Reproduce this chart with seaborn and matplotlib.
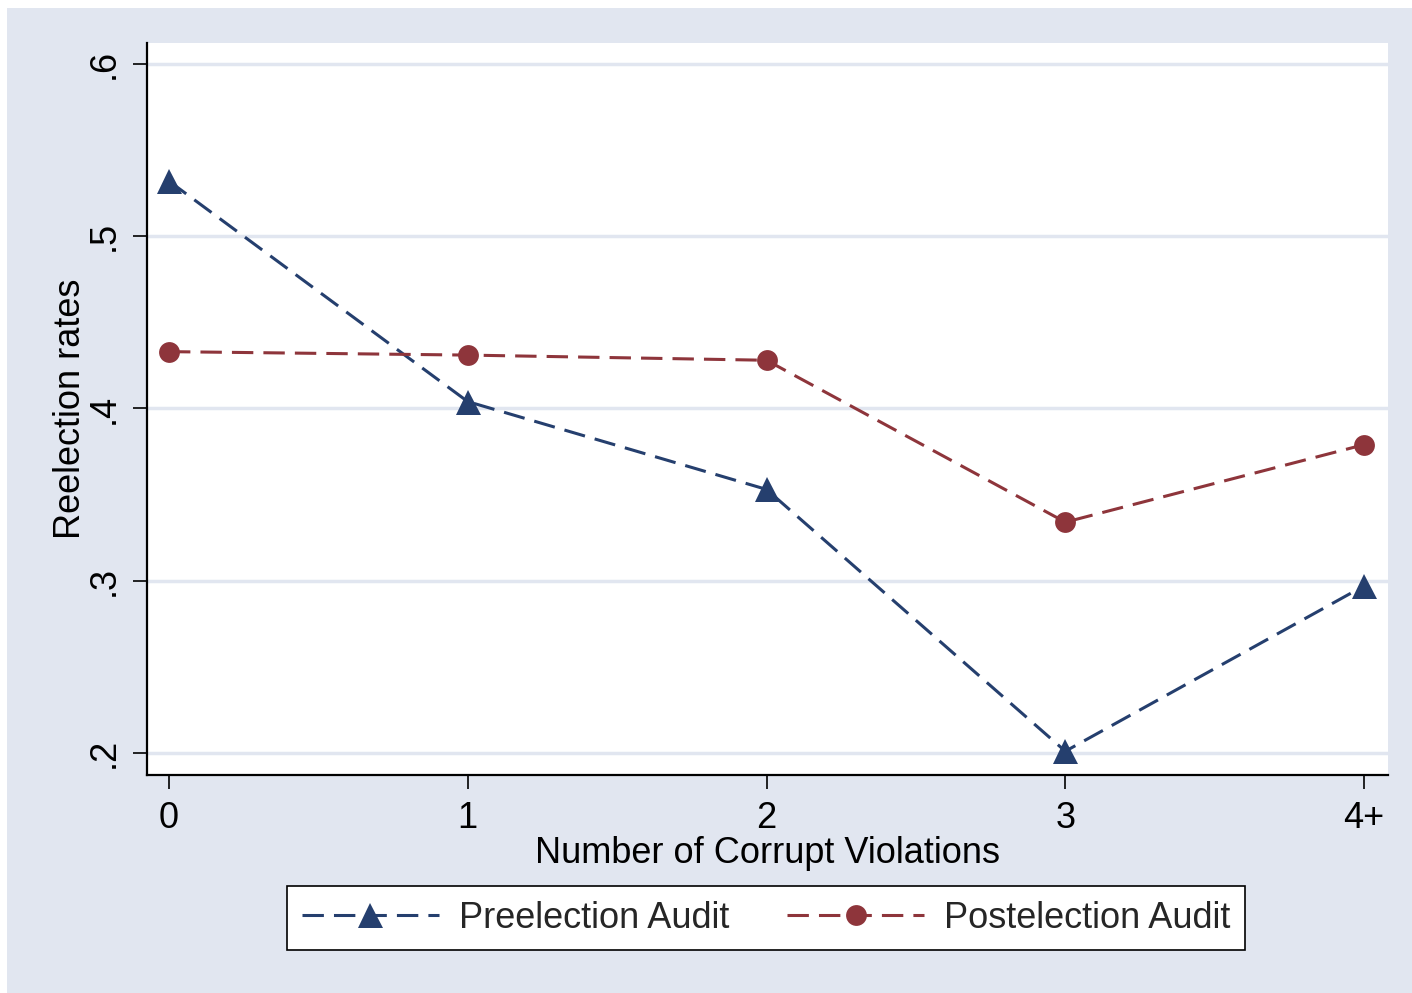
import matplotlib
matplotlib.use("Agg")
import matplotlib.pyplot as plt
import matplotlib.patches as mpatches
import seaborn as sns
import pandas as pd

categories = ["0", "1", "2", "3", "4+"]
pre_values = [0.532, 0.404, 0.353, 0.201, 0.297]
post_values = [0.433, 0.431, 0.428, 0.334, 0.379]
series_names = ["Preelection Audit", "Postelection Audit"]
y_ticks = [0.2, 0.3, 0.4, 0.5, 0.6]
y_ticklabels = [".2", ".3", ".4", ".5", ".6"]

sns.set_theme(style="white")
plt.rcParams['font.family'] = ['Liberation Sans', 'DejaVu Sans']

BG = "#E1E6F0"
NAVY = "#253F6E"
MAROON = "#8E353B"

df = pd.DataFrame({
    "x": list(range(len(categories))) * 2,
    "y": pre_values + post_values,
    "series": [series_names[0]] * len(categories) + [series_names[1]] * len(categories),
})

fig = plt.figure(figsize=(14.12, 9.93), dpi=100)
fig.patch.set_facecolor("white")
fig.patches.append(mpatches.Rectangle((7 / 1412, 0), 1 - 7 / 1412, (993 - 8) / 993,
                                      transform=fig.transFigure, facecolor=BG,
                                      edgecolor="none", zorder=-10))

ax = fig.add_axes([147 / 1412, (993 - 775) / 993, (1388 - 147) / 1412, (775 - 43) / 993])
ax.set_facecolor("white")

sns.lineplot(data=df, x="x", y="y", hue="series", style="series",
             palette=[NAVY, MAROON], markers=["^", "o"],
             dashes=[(7, 3.3), (7, 3.3)], linewidth=2.2,
             markeredgewidth=0, ax=ax, legend=False)
for line, ms in zip(ax.lines, [18, 15]):
    line.set_markersize(ms)

ax.set_xlim(-0.0736, 4.08)
ax.set_ylim(0.1872, 0.6122)
ax.set_xticks(range(len(categories)))
ax.set_xticklabels(categories)
ax.set_yticks(y_ticks)
ax.set_yticklabels(y_ticklabels, rotation=90, va="center")

for y in y_ticks:
    ax.axhline(y, color=BG, linewidth=2.5, zorder=0)

for s in ["top", "right"]:
    ax.spines[s].set_visible(False)
for s in ["left", "bottom"]:
    ax.spines[s].set_color("black")
    ax.spines[s].set_linewidth(1.6)

ax.tick_params(axis="both", which="major", direction="out", length=10, width=1.2,
               color="black", labelsize=26, labelcolor="black", left=True, bottom=True)
ax.tick_params(axis="x", pad=9)
ax.tick_params(axis="y", pad=8)

ax.set_xlabel("Number of Corrupt Violations", fontsize=26, color="black", labelpad=0)
ax.set_ylabel("Reelection rates", fontsize=26, color="black", labelpad=-1)

handles = [
    plt.Line2D([], [], color=NAVY, linestyle=(0, (7, 3.3)), linewidth=2.2,
               marker="^", markersize=18, markeredgewidth=0),
    plt.Line2D([], [], color=MAROON, linestyle=(0, (7, 3.3)), linewidth=2.2,
               marker="o", markersize=15, markeredgewidth=0),
]
leg = fig.legend(handles, series_names, loc="center", ncol=2,
                 bbox_to_anchor=(766 / 1412, 1 - 918 / 993),
                 fontsize=26, frameon=True, fancybox=False, framealpha=1.0,
                 handlelength=3.8, columnspacing=1.6, handletextpad=0.55,
                 borderpad=0.4)
leg.get_frame().set_edgecolor("black")
leg.get_frame().set_linewidth(1.2)
leg.get_frame().set_facecolor("white")

fig.savefig("out.png", dpi=100)
